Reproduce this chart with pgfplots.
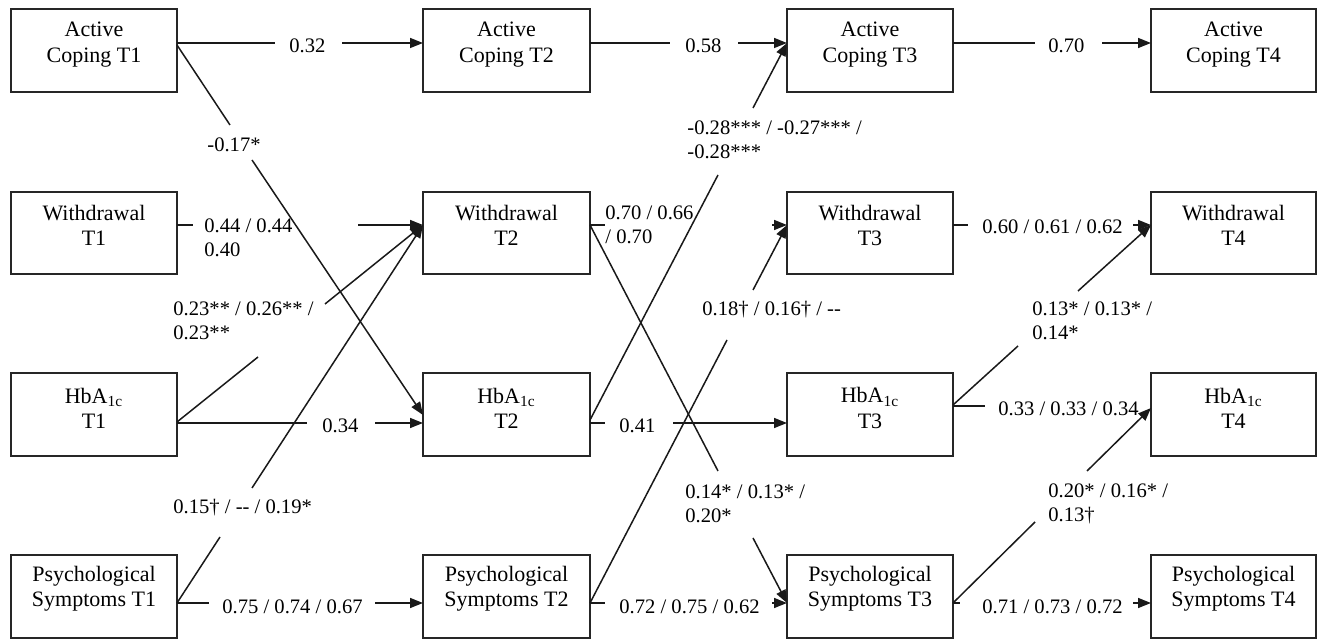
\documentclass[border=0pt]{standalone}
\usepackage{fontspec}
\setmainfont{Liberation Serif}
\usepackage{pgfplots}
\pgfplotsset{compat=1.18}
\usetikzlibrary{arrows.meta}

\newcommand{\bx}[4]{\draw[line width=1pt,black!85] (axis cs:#1,#3) rectangle (axis cs:#2,#4);}
\newcommand{\seg}[4]{\addplot[black!90,solid,line width=0.75pt,mark=none] coordinates {(#1,#2)(#3,#4)};}
\newcommand{\arr}[4]{\addplot[black!90,solid,line width=0.75pt,mark=none,-{Triangle[length=6.5pt,width=5pt]}] coordinates {(#1,#2)(#3,#4)};}
\newcommand{\lab}[3]{\node[anchor=west,align=left,inner sep=0pt,font=\fontsize{10.3}{12}\selectfont] at (axis cs:#1,#2) {#3};}
\newcommand{\btx}[3]{\node[align=center,inner sep=0pt,font=\fontsize{11}{12.6}\selectfont] at (axis cs:#1,#2) {#3};}

\begin{document}
\begin{tikzpicture}
\begin{axis}[
  x=0.5pt, y=0.5pt, y dir=reverse,
  xmin=0, xmax=1319, ymin=0, ymax=640,
  hide axis, clip=false,
  every node/.append style={text=black!85},
]
\path (axis cs:0,0) rectangle (axis cs:1319,640);
% boxes
\bx{11}{177}{9}{92}   \bx{423}{590}{9}{92}   \bx{787}{953}{9}{92}   \bx{1151}{1316}{9}{92}
\bx{11}{177}{192}{274} \bx{423}{590}{192}{274} \bx{787}{953}{192}{274} \bx{1151}{1316}{192}{274}
\bx{11}{177}{373}{456} \bx{423}{590}{373}{456} \bx{787}{953}{373}{456} \bx{1151}{1316}{373}{456}
\bx{11}{177}{555}{638} \bx{423}{590}{555}{638} \bx{787}{953}{555}{638} \bx{1151}{1316}{555}{638}
% box texts
\btx{94}{44.5}{Active\\Coping T1}
\btx{506.5}{44.5}{Active\\Coping T2}
\btx{870}{44.5}{Active\\Coping T3}
\btx{1233.5}{44.5}{Active\\Coping T4}
\btx{94}{225.5}{Withdrawal\\T1}
\btx{506.5}{225.5}{Withdrawal\\T2}
\btx{870}{225.5}{Withdrawal\\T3}
\btx{1233.5}{225.5}{Withdrawal\\T4}
\btx{94}{408}{HbA\textsubscript{1c}\\T1}
\btx{506.5}{408}{HbA\textsubscript{1c}\\T2}
\btx{870}{408}{HbA\textsubscript{1c}\\T3}
\btx{1233.5}{408}{HbA\textsubscript{1c}\\T4}
\btx{94}{589}{Psychological\\Symptoms T1}
\btx{506.5}{589}{Psychological\\Symptoms T2}
\btx{870}{589}{Psychological\\Symptoms T3}
\btx{1233.5}{589}{Psychological\\Symptoms T4}
% row 1 horizontals
\seg{177}{43}{275}{43}   \arr{342}{43}{423}{43}
\seg{590}{43}{670}{43}   \arr{738}{43}{787}{43}
\seg{953}{43}{1035}{43}  \arr{1102}{43}{1151}{43}
% row 2
\seg{177}{225}{193}{225} \arr{358}{225}{423}{225}
\seg{590}{225}{605}{225} \arr{772}{225}{787}{225}
\seg{953}{225}{968}{225} \arr{1133}{225}{1151}{225}
% row 3
\seg{177}{423}{307}{423} \arr{375}{423}{423}{423}
\seg{590}{423}{605}{423} \arr{673}{423}{787}{423}
\seg{953}{406}{985}{406}
% row 4
\seg{177}{603}{209}{603} \arr{375}{603}{423}{603}
\seg{590}{603}{605}{603} \arr{772}{603}{787}{603}
\seg{953}{603}{960}{603} \arr{1133}{603}{1151}{603}
% diagonals col1->col2
\seg{177}{45}{230}{125}   \arr{252}{160}{423}{415}
\seg{177}{422}{258}{357}  \arr{325}{304}{423}{225}
\seg{177}{603}{220}{537}  \arr{252}{488}{423}{225}
% diagonals col2->col3
\seg{590}{420}{718}{175}  \arr{753}{108}{787}{43}
\seg{590}{225}{718}{471}  \arr{753}{538}{787}{603}
\seg{590}{603}{727}{340}  \arr{753}{290}{787}{225}
% diagonals col3->col4
\seg{953}{405}{1018}{346} \arr{1078}{291}{1151}{225}
\seg{953}{603}{1035}{522} \arr{1087}{471}{1151}{408}
% labels
\lab{289}{46}{0.32}
\lab{685}{46}{0.58}
\lab{1048}{46}{0.70}
\lab{207}{145}{-0.17*}
\lab{204}{238}{0.44 / 0.44\\0.40}
\lab{173}{321}{0.23** / 0.26** /\\0.23**}
\lab{322}{426}{0.34}
\lab{173}{508}{0.15\textdagger{} / -{}- / 0.19*}
\lab{222}{607}{0.75 / 0.74 / 0.67}
\lab{605}{224.5}{0.70 / 0.66\\/ 0.70}
\lab{687}{140}{-0.28*** / -0.27*** /\\-0.28***}
\lab{702}{310}{0.18\textdagger{} / 0.16\textdagger{} / -{}-}
\lab{619}{426}{0.41}
\lab{685}{503.5}{0.14* / 0.13* /\\0.20*}
\lab{619}{607}{0.72 / 0.75 / 0.62}
\lab{982}{227}{0.60 / 0.61 / 0.62}
\lab{1032}{321}{0.13* / 0.13* /\\0.14*}
\lab{998}{409}{0.33 / 0.33 / 0.34}
\lab{1048}{503.5}{0.20* / 0.16* /\\0.13\textdagger}
\lab{982}{607}{0.71 / 0.73 / 0.72}
\end{axis}
\end{tikzpicture}
\end{document}
